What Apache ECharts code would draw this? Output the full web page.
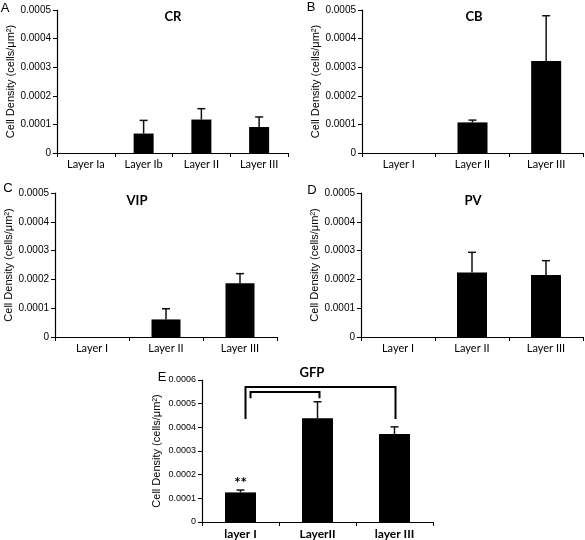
<!DOCTYPE html>
<html><head><meta charset="utf-8">
<script src="https://cdn.jsdelivr.net/npm/echarts@6/dist/echarts.min.js"></script>
<style>html,body{margin:0;padding:0;background:#fff}#c{width:585px;height:540px}</style>
</head><body><div id="c"></div>
<script>
var crCats = ['Layer Ia', 'Layer Ib', 'Layer II', 'Layer III'];
var crMeans = [0, 0.000068, 0.000117, 0.000091];
var crErr = [0, 0.000046, 0.000038, 0.000035];

var cbCats = ['Layer I', 'Layer II', 'Layer III'];
var cbMeans = [0, 0.000107, 0.000322];
var cbErr = [0, 0.000008, 0.000158];

var vipCats = ['Layer I', 'Layer II', 'Layer III'];
var vipMeans = [0, 0.000061, 0.000187];
var vipErr = [0, 0.000037, 0.000033];

var pvCats = ['Layer I', 'Layer II', 'Layer III'];
var pvMeans = [0, 0.000224, 0.000215];
var pvErr = [0, 0.00007, 0.00005];

var gfpCats = ['layer I', 'LayerII', 'layer III'];
var gfpMeans = [0.000125, 0.000438, 0.000372];
var gfpErr = [0.00001, 0.00007, 0.00003];
// brackets: [fromCat, toCat, topValue, legBottomValue]
var gfpBrackets = [[0, 2, 0.00057, 0.000435], [0, 1, 0.000549, 0.000523]];

var panels = [
  {cats: crCats, means: crMeans, err: crErr, title: 'CR', letter: 'A', grid: {left: 57, top: 10, width: 231, height: 143}, max: 0.0005, bw: 20, tx: 173, ty: 17, lx: 5, ly: 8},
  {cats: cbCats, means: cbMeans, err: cbErr, title: 'CB', letter: 'B', grid: {left: 362, top: 10, width: 221, height: 143}, max: 0.0005, bw: 30, tx: 474, ty: 17, lx: 311, ly: 7},
  {cats: vipCats, means: vipMeans, err: vipErr, title: 'VIP', letter: 'C', grid: {left: 55, top: 193, width: 222, height: 144}, max: 0.0005, bw: 29, tx: 137, ty: 201, lx: 8, ly: 188},
  {cats: pvCats, means: pvMeans, err: pvErr, title: 'PV', letter: 'D', grid: {left: 361, top: 193, width: 222, height: 144}, max: 0.0005, bw: 30, tx: 473, ty: 201, lx: 312, ly: 190},
  {cats: gfpCats, means: gfpMeans, err: gfpErr, title: 'GFP', letter: 'E', grid: {left: 202, top: 380, width: 231, height: 142}, max: 0.0006, bw: 31, tx: 312, ty: 373, lx: 162, ly: 377}
];

var grids = [], xAxes = [], yAxes = [], series = [], graphics = [];
panels.forEach(function (p, i) {
  grids.push(p.grid);
  var isE = i === 4;
  xAxes.push({
    type: 'category', gridIndex: i, data: p.cats,
    axisLine: {lineStyle: {color: '#000', width: 1.2}},
    axisTick: {show: true, alignWithLabel: false, length: 4, lineStyle: {color: '#000'}},
    axisLabel: {color: '#000', fontFamily: 'Lato', fontSize: isE ? 12 : 11, fontWeight: isE ? 'bold' : 'normal', margin: 6, interval: 0}
  });
  yAxes.push({
    type: 'value', gridIndex: i, min: 0, max: p.max, interval: 0.0001,
    name: 'Cell Density (cells/\u03bcm\u00b2)', nameLocation: 'middle', nameGap: 40,
    nameTextStyle: {color: '#000', fontFamily: 'Liberation Sans', fontSize: 11},
    splitLine: {show: false},
    axisLine: {show: true, lineStyle: {color: '#000', width: 1.2}},
    axisTick: {show: true, length: 4, lineStyle: {color: '#000'}},
    axisLabel: {color: '#000', fontFamily: 'Liberation Sans', fontSize: isE ? 9 : 10, margin: 6,
      formatter: function (v) { return v === 0 ? '0' : v.toFixed(4); }}
  });
  var barData = p.means.map(function (m, k) {
    if (m === 0) return '-';
    if (isE && k === 0) {
      return {value: m, label: {show: true, position: 'top', distance: 2, formatter: '**', color: '#000', fontFamily: 'Lato', fontWeight: 'bold', fontSize: 15}};
    }
    return m;
  });
  series.push({
    type: 'bar', xAxisIndex: i, yAxisIndex: i, data: barData, barWidth: p.bw,
    itemStyle: {color: '#000'}, silent: true, animation: false
  });
  var errData = [];
  p.means.forEach(function (m, k) { if (p.err[k] > 0) errData.push([k, m, m + p.err[k]]); });
  series.push({
    type: 'custom', xAxisIndex: i, yAxisIndex: i, data: errData, animation: false, silent: true, z: 1,
    renderItem: function (params, api) {
      var b = api.coord([api.value(0), api.value(1)]);
      var t = api.coord([api.value(0), api.value(2)]);
      var st = {stroke: '#111', lineWidth: 1.5};
      return {type: 'group', children: [
        {type: 'line', shape: {x1: b[0], y1: b[1], x2: t[0], y2: t[1]}, style: st},
        {type: 'line', shape: {x1: t[0] - 4, y1: t[1], x2: t[0] + 4, y2: t[1]}, style: st}
      ]};
    }
  });
  graphics.push({type: 'text', x: p.tx, y: p.ty, style: {text: p.title, font: 'bold 13px Lato', fill: '#000', align: 'center', verticalAlign: 'middle'}});
  graphics.push({type: 'text', x: p.lx, y: p.ly, style: {text: p.letter, font: '13px "Liberation Sans"', fill: '#000', align: 'center', verticalAlign: 'middle'}});
});

series.push({
  type: 'custom', xAxisIndex: 4, yAxisIndex: 4, data: gfpBrackets, animation: false, silent: true,
  renderItem: function (params, api) {
    var offL = params.dataIndex === 0 ? 5 : 10;
    var offR = params.dataIndex === 0 ? 1 : 2;
    var a = api.coord([api.value(0), api.value(2)]);
    var b = api.coord([api.value(1), api.value(2)]);
    var bottom = api.coord([api.value(0), api.value(3)])[1];
    var xl = a[0] + offL, xr = b[0] + offR, yt = a[1];
    return {type: 'polyline', shape: {points: [[xl, bottom], [xl, yt], [xr, yt], [xr, bottom]]},
      style: {stroke: '#000', lineWidth: 2, fill: null}};
  }
});

var chart = echarts.init(document.getElementById('c'), null, {renderer: 'canvas'});
chart.setOption({
  animation: false,
  grid: grids, xAxis: xAxes, yAxis: yAxes, series: series, graphic: graphics
});
</script></body></html>
